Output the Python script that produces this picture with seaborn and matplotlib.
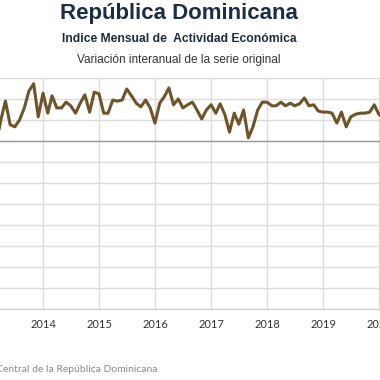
import pandas as pd
import numpy as np
import matplotlib.pyplot as plt
from matplotlib.transforms import ScaledTranslation
import seaborn as sns

# IMAE, variación interanual (%), mar-2013 .. feb-2020
months = pd.date_range("2013-03-01", periods=84, freq="MS")
imae = [-0.8, 4.0, 7.6, 3.1, 2.7, 4.0, 6.3, 9.5, 10.9, 4.6,
        9.1, 5.3, 8.6, 6.3, 6.3, 7.4, 6.7, 5.3, 7.2, 8.8, 5.5, 9.3,
        9.0, 5.3, 5.3, 7.8, 7.6, 7.8, 9.9, 8.6, 7.2, 6.5, 7.8, 6.3,
        3.4, 7.2, 8.4, 10.1, 6.9, 8.0, 6.3, 6.9, 7.4, 5.9, 4.2, 5.9,
        6.9, 5.3, 7.1, 5.0, 1.7, 5.3, 3.2, 5.9, 0.6, 2.7, 5.9, 7.4,
        7.4, 6.7, 6.7, 7.4, 6.7, 7.2, 6.7, 7.1, 8.2, 6.7, 6.9, 5.7,
        5.5, 5.5, 5.3, 3.4, 5.5, 2.7, 4.6, 5.1, 5.3, 5.3, 5.5, 6.9,
        5.0, 4.6]
years = list(range(2013, 2021))
year_labels = [str(y) for y in years]
yticks = list(range(-32, 13, 4))

df = pd.DataFrame({"mes": months, "var": imae})

sns.set_style("white")
fig = plt.figure(figsize=(3.8, 3.8), dpi=100)
# the chart is cropped on both sides, so the axes run past the figure edges
ax = fig.add_axes([-30 / 380, 1 - 309 / 380, 440 / 380, 231 / 380])

sns.lineplot(data=df, x="mes", y="var", ax=ax, color="#6e5428", linewidth=2.2, zorder=3)

ax.set_yticks(yticks)
ax.set_yticklabels([])
ax.set_ylim(-32, 12)
ax.set_xticks([pd.Timestamp(f"{y}-01-01") for y in years])
ax.set_xticklabels(year_labels, fontsize=8, color="#333333", family="Lato")
ax.set_xlim(pd.Timestamp("2012-09-12"), pd.Timestamp("2020-07-21"))
for lbl in ax.get_xticklabels():
    lbl.set_transform(lbl.get_transform() + ScaledTranslation(3 / 100, 0, fig.dpi_scale_trans))
ax.tick_params(length=0, pad=7)
ax.grid(True, color="#dcdcdc", linewidth=1)
ax.axhline(0, color="#999999", linewidth=1, zorder=2)
for s in ["top", "left", "right"]:
    ax.spines[s].set_visible(False)
ax.spines["bottom"].set_color("#cccccc")
ax.set_xlabel("")
ax.set_ylabel("")

fig.text(179 / 380, 1 - 14 / 380, "República Dominicana", ha="center", va="center",
         fontsize=16, fontweight="bold", color="#1c2b48", family="Liberation Sans")
fig.text(179 / 380, 1 - 39 / 380, "Indice Mensual de  Actividad Económica", ha="center", va="center",
         fontsize=8.7, fontweight="bold", color="#1c2b3a", family="Liberation Sans")
fig.text(179 / 380, 1 - 60 / 380, "Variación interanual de la serie original", ha="center", va="center",
         fontsize=8.6, color="#333333", family="Liberation Sans")
fig.text(158 / 380, 1 - 370 / 380, "Fuente: Banco Central de la República Dominicana", ha="right", va="center",
         fontsize=7.5, color="#8a8a8a", family="Lato")

fig.savefig("out.png", dpi=100)
